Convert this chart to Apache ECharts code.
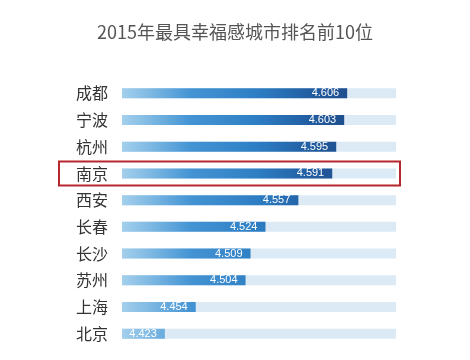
<!DOCTYPE html>
<html>
<head>
<meta charset="utf-8">
<script src="https://cdn.jsdelivr.net/npm/echarts@6/dist/echarts.min.js"></script>
<style>
html,body{margin:0;padding:0;background:#fff;}
#main{width:470px;height:360px;}
</style>
</head>
<body>
<div id="main"></div>
<script>
var titleText = '2015年最具幸福感城市排名前10位';
var cities = ['成都', '宁波', '杭州', '南京', '西安', '长春', '长沙', '苏州', '上海', '北京'];
var scores = [4.606, 4.603, 4.595, 4.591, 4.557, 4.524, 4.509, 4.504, 4.454, 4.423];
var highlightCity = '南京';

var chart = echarts.init(document.getElementById('main'), null, {renderer: 'canvas'});
var gridLeft = 122, gridRight = 74;
var barGradient = new echarts.graphic.LinearGradient(gridLeft, 0, 470 - gridRight, 0, [
  {offset: 0, color: '#a3cfec'},
  {offset: 0.1, color: '#7fb9e3'},
  {offset: 0.25, color: '#4494d4'},
  {offset: 0.5, color: '#2d7dc3'},
  {offset: 0.68, color: '#225ea2'},
  {offset: 0.95, color: '#1b3f7a'}
], true);

chart.setOption({
  backgroundColor: '#ffffff',
  animation: false,
  title: {
    text: titleText,
    left: 'center',
    top: 18,
    textStyle: {fontSize: 18, fontWeight: 'normal', color: '#555555', fontFamily: 'Noto Sans CJK SC'}
  },
  grid: {left: gridLeft, right: gridRight, top: 80, bottom: 13, containLabel: false},
  xAxis: {
    type: 'value', min: 4.38, max: 4.655,
    show: false
  },
  yAxis: {
    type: 'category', data: cities, inverse: true,
    axisLine: {show: false}, axisTick: {show: false}, splitLine: {show: false},
    axisLabel: {fontSize: 16, color: '#333333', margin: 14, fontFamily: 'Noto Sans CJK SC'}
  },
  series: [{
    type: 'bar',
    data: scores,
    barWidth: 10,
    showBackground: true,
    backgroundStyle: {color: '#dceaf6'},
    itemStyle: {color: barGradient},
    label: {
      show: true, position: 'insideRight', distance: 8,
      color: '#ffffff', fontSize: 11, fontFamily: 'Liberation Sans',
      formatter: function (p) { return p.value.toFixed(3); }
    }
  }]
});

var cy = chart.convertToPixel({yAxisIndex: 0}, highlightCity);
chart.setOption({
  graphic: [{
    type: 'rect',
    shape: {x: 59, y: cy - 12, width: 341, height: 24},
    style: {fill: 'none', stroke: '#b5272d', lineWidth: 2},
    silent: true
  }]
});
</script>
</body>
</html>
